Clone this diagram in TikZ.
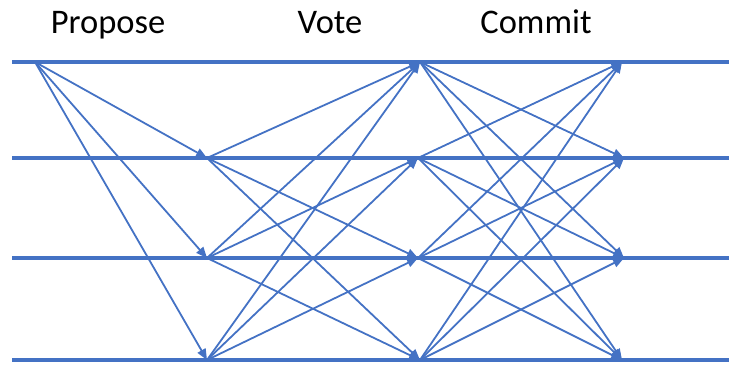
\documentclass[tikz,border=0pt]{standalone}
\usepackage{fontspec}
\setmainfont{Carlito}
\usepackage{tikz}
\usetikzlibrary{arrows.meta}
\definecolor{msgblue}{RGB}{68,114,196}
\tikzset{
  timeline/.style={draw=msgblue, line width=3.2pt},
  msg/.style={-{Triangle[length=11pt,width=9pt]}, draw=msgblue, fill=msgblue, line width=1.8pt},
  phase/.style={font=\fontsize{34.5}{34.5}\selectfont, inner sep=0pt, anchor=base},
}

\begin{document}
\begin{tikzpicture}[x=1pt, y=-1pt]
  \useasboundingbox (0,0) rectangle (729,366);
  % phase labels
  \node[phase] (lprop) at (108,34) {Propose};
  \node[phase] (lvote) at (330,34) {Vote};
  \node[phase] (lcomm) at (536,34) {Commit};
  % replica timelines
  \coordinate (w1) at (12,62);  \coordinate (e1) at (729,62);
  \coordinate (w2) at (12,158); \coordinate (e2) at (729,158);
  \coordinate (w3) at (12,258); \coordinate (e3) at (729,258);
  \coordinate (w4) at (12,360); \coordinate (e4) at (729,360);
  \draw[timeline] (w1) -- (e1);
  \draw[timeline] (w2) -- (e2);
  \draw[timeline] (w3) -- (e3);
  \draw[timeline] (w4) -- (e4);
  % events
  \coordinate (p1) at (35,62);
  \coordinate (v2) at (207,158);
  \coordinate (v3) at (207,258);
  \coordinate (v4) at (207,360);
  \coordinate (c1) at (420,62);
  \coordinate (c2) at (418,158);
  \coordinate (c3) at (418,258);
  \coordinate (c4) at (420,360);
  \coordinate (f1) at (622,62);
  \coordinate (f2) at (624,158);
  \coordinate (f3) at (624,258);
  \coordinate (f4) at (622,360);
  % propose
  \draw[msg] (p1) -- (v2);
  \draw[msg] (p1) -- (v3);
  \draw[msg] (p1) -- (v4);
  % vote
  \draw[msg] (v2) -- (c1);
  \draw[msg] (v2) -- (c3);
  \draw[msg] (v2) -- (c4);
  \draw[msg] (v3) -- (c1);
  \draw[msg] (v3) -- (c2);
  \draw[msg] (v3) -- (c4);
  \draw[msg] (v4) -- (c1);
  \draw[msg] (v4) -- (c2);
  \draw[msg] (v4) -- (c3);
  % commit
  \draw[msg] (c1) -- (f2);
  \draw[msg] (c1) -- (f3);
  \draw[msg] (c1) -- (f4);
  \draw[msg] (c2) -- (f1);
  \draw[msg] (c2) -- (f3);
  \draw[msg] (c2) -- (f4);
  \draw[msg] (c3) -- (f1);
  \draw[msg] (c3) -- (f2);
  \draw[msg] (c3) -- (f4);
  \draw[msg] (c4) -- (f1);
  \draw[msg] (c4) -- (f2);
  \draw[msg] (c4) -- (f3);
\end{tikzpicture}
\end{document}
